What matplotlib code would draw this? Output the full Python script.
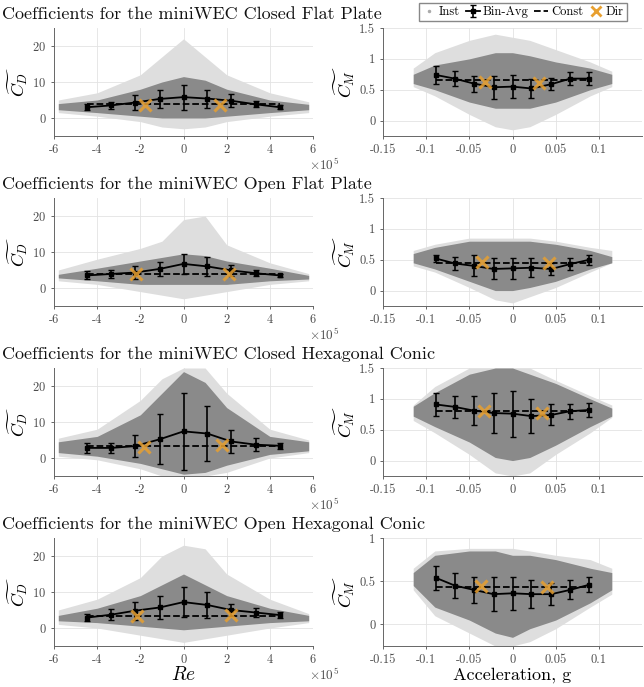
import numpy as np
import matplotlib
matplotlib.use("Agg")
import matplotlib.pyplot as plt
from matplotlib.lines import Line2D
from matplotlib.ticker import FuncFormatter

plt.rcParams['font.family'] = 'serif'
plt.rcParams['font.serif'] = ['cmr10']
plt.rcParams['mathtext.fontset'] = 'cm'
plt.rcParams['axes.formatter.use_mathtext'] = True
plt.rcParams['axes.unicode_minus'] = False

titles = ["Coefficients for the miniWEC Closed Flat Plate",
          "Coefficients for the miniWEC Open Flat Plate",
          "Coefficients for the miniWEC Closed Hexagonal Conic",
          "Coefficients for the miniWEC Open Hexagonal Conic"]

# bin centres
re_bins = np.array([-4.45, -3.35, -2.25, -1.1, 0, 1.1, 2.2, 3.35, 4.45]) * 1e5
acc_bins = [-0.089, -0.067, -0.045, -0.022, 0, 0.022, 0.045, 0.067, 0.089]

# bin-averaged drag coefficient and its spread
cd_mean = [[3.0, 3.5, 4.3, 5.3, 5.8, 5.4, 4.8, 3.8, 3.0],
           [3.5, 3.9, 4.3, 5.3, 6.7, 6.0, 4.9, 4.1, 3.5],
           [2.8, 2.8, 3.3, 5.2, 7.4, 6.8, 4.6, 3.7, 3.4],
           [2.9, 3.7, 4.8, 5.7, 7.2, 6.4, 5.0, 4.3, 3.6]]
cd_err = [[0.8, 1.0, 2.0, 2.6, 3.5, 2.5, 1.8, 0.8, 0.6],
          [1.1, 1.2, 1.8, 2.0, 2.7, 2.7, 1.5, 0.8, 0.5],
          [1.5, 1.5, 3.1, 7.0, 10.7, 7.6, 3.1, 1.8, 0.8],
          [0.9, 1.6, 2.5, 3.3, 4.1, 3.5, 1.8, 1.2, 0.8]]
cd_const = [3.8, 3.8, 3.4, 3.3]
cd_dir_x = [[-1.8e5, 1.7e5], [-2.18e5, 2.1e5], [-1.84e5, 1.8e5], [-2.15e5, 2.18e5]]
cd_dir_y = [[3.6, 3.6], [3.9, 3.8], [3.0, 3.6], [3.3, 3.6]]

# bin-averaged inertia coefficient and its spread
cm_mean = [[0.74, 0.68, 0.60, 0.54, 0.55, 0.52, 0.59, 0.68, 0.68],
           [0.52, 0.44, 0.40, 0.35, 0.36, 0.37, 0.35, 0.43, 0.50],
           [0.91, 0.87, 0.81, 0.77, 0.76, 0.72, 0.74, 0.80, 0.82],
           [0.54, 0.45, 0.40, 0.35, 0.36, 0.35, 0.35, 0.40, 0.46]]
cm_err = [[0.15, 0.12, 0.13, 0.19, 0.19, 0.16, 0.10, 0.10, 0.10],
          [0.05, 0.10, 0.17, 0.17, 0.17, 0.15, 0.10, 0.09, 0.08],
          [0.18, 0.18, 0.23, 0.33, 0.37, 0.28, 0.17, 0.12, 0.12],
          [0.14, 0.15, 0.15, 0.20, 0.19, 0.16, 0.13, 0.11, 0.09]]
cm_const = [0.65, 0.45, 0.80, 0.43]
cm_dir_x = [[-0.032, 0.031], [-0.035, 0.042], [-0.033, 0.034], [-0.037, 0.040]]
cm_dir_y = [[0.63, 0.61], [0.46, 0.44], [0.80, 0.77], [0.45, 0.43]]
cm_ylim_top = [1.5, 1.5, 1.5, 1.0]

# outline of the instantaneous point clouds (dense core and sparse halo)
re_env = np.array([-5.8, -4, -2, -1, 0, 1, 2, 4, 5.8]) * 1e5
cd_core_lo = [[2.3, 1.5, 0.5, 0, 0, 0, 0.5, 1.5, 2.3],
              [2.8, 2, 1, 1, 1, 1, 1, 2, 2.5],
              [1.5, 0.5, -1.5, -3, -4.5, -4, -2, 1, 2],
              [2, 1.5, 0.5, 0, -0.5, 0, 0.5, 1.5, 2]]
cd_core_hi = [[4, 5, 8, 10, 11.5, 10.5, 8, 5, 3.8],
              [3.8, 5.5, 7.5, 8.5, 9.5, 9, 7.5, 5.5, 3.5],
              [4.5, 6, 12, 18, 24, 21, 14, 6, 4.5],
              [3.5, 5.5, 9, 12, 15, 12, 9, 5.5, 3.5]]
cd_halo_lo = [[1.5, 0.5, -1, -2.5, -3, -2.5, -1, 0.5, 1.5],
              [2, 1, -1, -2, -3, -2, -1, 1, 2],
              [0.5, -0.5, -3, -5, -5, -5, -4, 0, 1.5],
              [1, 0, -2, -3, -4, -3, -2, 0, 1.5]]
cd_halo_hi = [[5, 7, 12, 17, 22, 17, 12, 7, 4.5],
              [5, 8, 11, 13, 19, 20, 12, 7, 4],
              [5.5, 8, 16, 22, 25, 25, 18, 8, 5],
              [5, 8, 14, 20, 23, 22, 15, 8, 4]]

acc_env = [-0.115, -0.09, -0.05, -0.02, 0, 0.02, 0.05, 0.09, 0.115]
cm_core_lo = [[0.6, 0.5, 0.3, 0.2, 0.2, 0.2, 0.3, 0.5, 0.6],
              [0.45, 0.35, 0.15, 0.0, 0.0, 0.05, 0.15, 0.35, 0.45],
              [0.72, 0.55, 0.3, 0.05, 0.0, 0.05, 0.25, 0.55, 0.72],
              [0.45, 0.2, 0.05, -0.1, -0.15, -0.05, 0.05, 0.25, 0.4]]
cm_core_hi = [[0.75, 0.9, 1.0, 1.1, 1.1, 1.05, 0.95, 0.85, 0.75],
              [0.6, 0.7, 0.8, 0.8, 0.8, 0.8, 0.75, 0.65, 0.55],
              [0.88, 1.1, 1.4, 1.5, 1.5, 1.4, 1.25, 1.0, 0.85],
              [0.6, 0.8, 0.85, 0.85, 0.8, 0.8, 0.75, 0.65, 0.6]]
cm_halo_lo = [[0.55, 0.4, 0.1, -0.1, -0.15, -0.1, 0.1, 0.4, 0.55],
              [0.4, 0.3, 0.05, -0.15, -0.2, -0.1, 0.05, 0.3, 0.45],
              [0.65, 0.45, 0.1, -0.2, -0.25, -0.2, 0.1, 0.45, 0.7],
              [0.4, 0.1, -0.1, -0.25, -0.25, -0.2, -0.05, 0.2, 0.35]]
cm_halo_hi = [[0.85, 1.1, 1.3, 1.4, 1.35, 1.3, 1.15, 0.95, 0.8],
              [0.65, 0.75, 0.85, 0.85, 0.85, 0.85, 0.8, 0.7, 0.65],
              [0.9, 1.2, 1.5, 1.5, 1.5, 1.5, 1.3, 1.05, 0.9],
              [0.65, 0.85, 0.88, 0.88, 0.88, 0.85, 0.8, 0.75, 0.65]]

W, H = 644, 687
fig = plt.figure(figsize=(W / 100, H / 100), dpi=100)

core_c = '#8a8a8a'
halo_c = '#dedede'
dir_c = '#E8A030'
tick_c = '#4d4d4d'


def style(ax):
    ax.grid(True, color='#e3e3e3', lw=0.6)
    ax.set_axisbelow(True)
    for s in ['top', 'right']:
        ax.spines[s].set_visible(False)
    for s in ['left', 'bottom']:
        ax.spines[s].set_color('#666666')
        ax.spines[s].set_linewidth(0.7)
    ax.tick_params(labelsize=9, colors=tick_c, length=2.5, width=0.6, pad=3)


gfmt = FuncFormatter(lambda v, p: '%g' % v)
refmt = FuncFormatter(lambda v, p: '%g' % (v / 1e5))
eb_handle = None

for i in range(4):
    top = 28 + 170 * i
    bot = (H - top - 108) / H

    # drag coefficient vs Reynolds number
    ax = fig.add_axes([54 / W, bot, 259 / W, 108 / H])
    ax.fill_between(re_env, cd_halo_lo[i], cd_halo_hi[i], color=halo_c, lw=0, zorder=1)
    ax.fill_between(re_env, cd_core_lo[i], cd_core_hi[i], color=core_c, lw=0, zorder=1.5)
    ax.plot([re_bins[0], re_bins[-1]], [cd_const[i]] * 2, 'k--', lw=1.3, zorder=3)
    eb = ax.errorbar(re_bins, cd_mean[i], yerr=cd_err[i], color='k', lw=1.3,
                     marker='s', ms=3, capsize=2.5, elinewidth=1.2, zorder=4)
    if eb_handle is None:
        eb_handle = eb
    ax.plot(cd_dir_x[i], cd_dir_y[i], 'x', color=dir_c, ms=8, mew=2.2, alpha=0.85, zorder=5)
    ax.set_xlim(-6e5, 6e5)
    ax.set_ylim(-5, 25)
    ax.set_xticks(np.arange(-6, 7, 2) * 1e5)
    ax.set_yticks([0, 10, 20])
    ax.xaxis.set_major_formatter(refmt)
    style(ax)
    ax.text(0.985, -0.19, r'$\times10^5$', transform=ax.transAxes, fontsize=9.5,
            color=tick_c, ha='left', va='top')
    ax.set_ylabel(r'$\widetilde{C_D}$', fontsize=13, labelpad=2)
    if i == 3:
        ax.set_xlabel(r'$Re$', fontsize=14, labelpad=0)

    # inertia coefficient vs acceleration
    ax2 = fig.add_axes([383 / W, bot, 259 / W, 108 / H])
    ax2.fill_between(acc_env, cm_halo_lo[i], cm_halo_hi[i], color=halo_c, lw=0, zorder=1)
    ax2.fill_between(acc_env, cm_core_lo[i], cm_core_hi[i], color=core_c, lw=0, zorder=1.5)
    ax2.plot([acc_bins[0], acc_bins[-1]], [cm_const[i]] * 2, 'k--', lw=1.3, zorder=3)
    ax2.errorbar(acc_bins, cm_mean[i], yerr=cm_err[i], color='k', lw=1.3,
                 marker='s', ms=3, capsize=2.5, elinewidth=1.2, zorder=4)
    ax2.plot(cm_dir_x[i], cm_dir_y[i], 'x', color=dir_c, ms=8, mew=2.2, alpha=0.85, zorder=5)
    ax2.set_xlim(-0.15, 0.15)
    ax2.set_ylim(-0.25, cm_ylim_top[i])
    ax2.set_xticks([-0.15, -0.1, -0.05, 0, 0.05, 0.1])
    ax2.set_yticks(np.arange(0, cm_ylim_top[i] + 0.01, 0.5))
    ax2.xaxis.set_major_formatter(gfmt)
    ax2.yaxis.set_major_formatter(gfmt)
    style(ax2)
    ax2.set_ylabel(r'$\widetilde{C_M}$', fontsize=13, labelpad=2)
    if i == 3:
        ax2.set_xlabel('Acceleration, g', fontsize=13, labelpad=1)

    fig.text(2 / W, 1 - (14 + 170 * i) / H, titles[i], fontsize=13,
             va='center', ha='left', color='#111111')

handles = [Line2D([], [], ls='none', marker='.', ms=3, color='#aaaaaa'),
           eb_handle,
           Line2D([], [], ls='--', color='k', lw=1.3),
           Line2D([], [], ls='none', marker='x', color=dir_c, ms=7, mew=2)]
fig.legend(handles, ['Inst', 'Bin-Avg', 'Const', 'Dir'], loc='upper left',
           bbox_to_anchor=(419 / W, 1 - 3 / H), ncol=4, fontsize=9,
           frameon=True, fancybox=False, edgecolor='#888888', framealpha=1,
           handlelength=1.1, handletextpad=0.25, columnspacing=0.45,
           borderpad=0.25, borderaxespad=0)

fig.savefig('out.png', dpi=100)
